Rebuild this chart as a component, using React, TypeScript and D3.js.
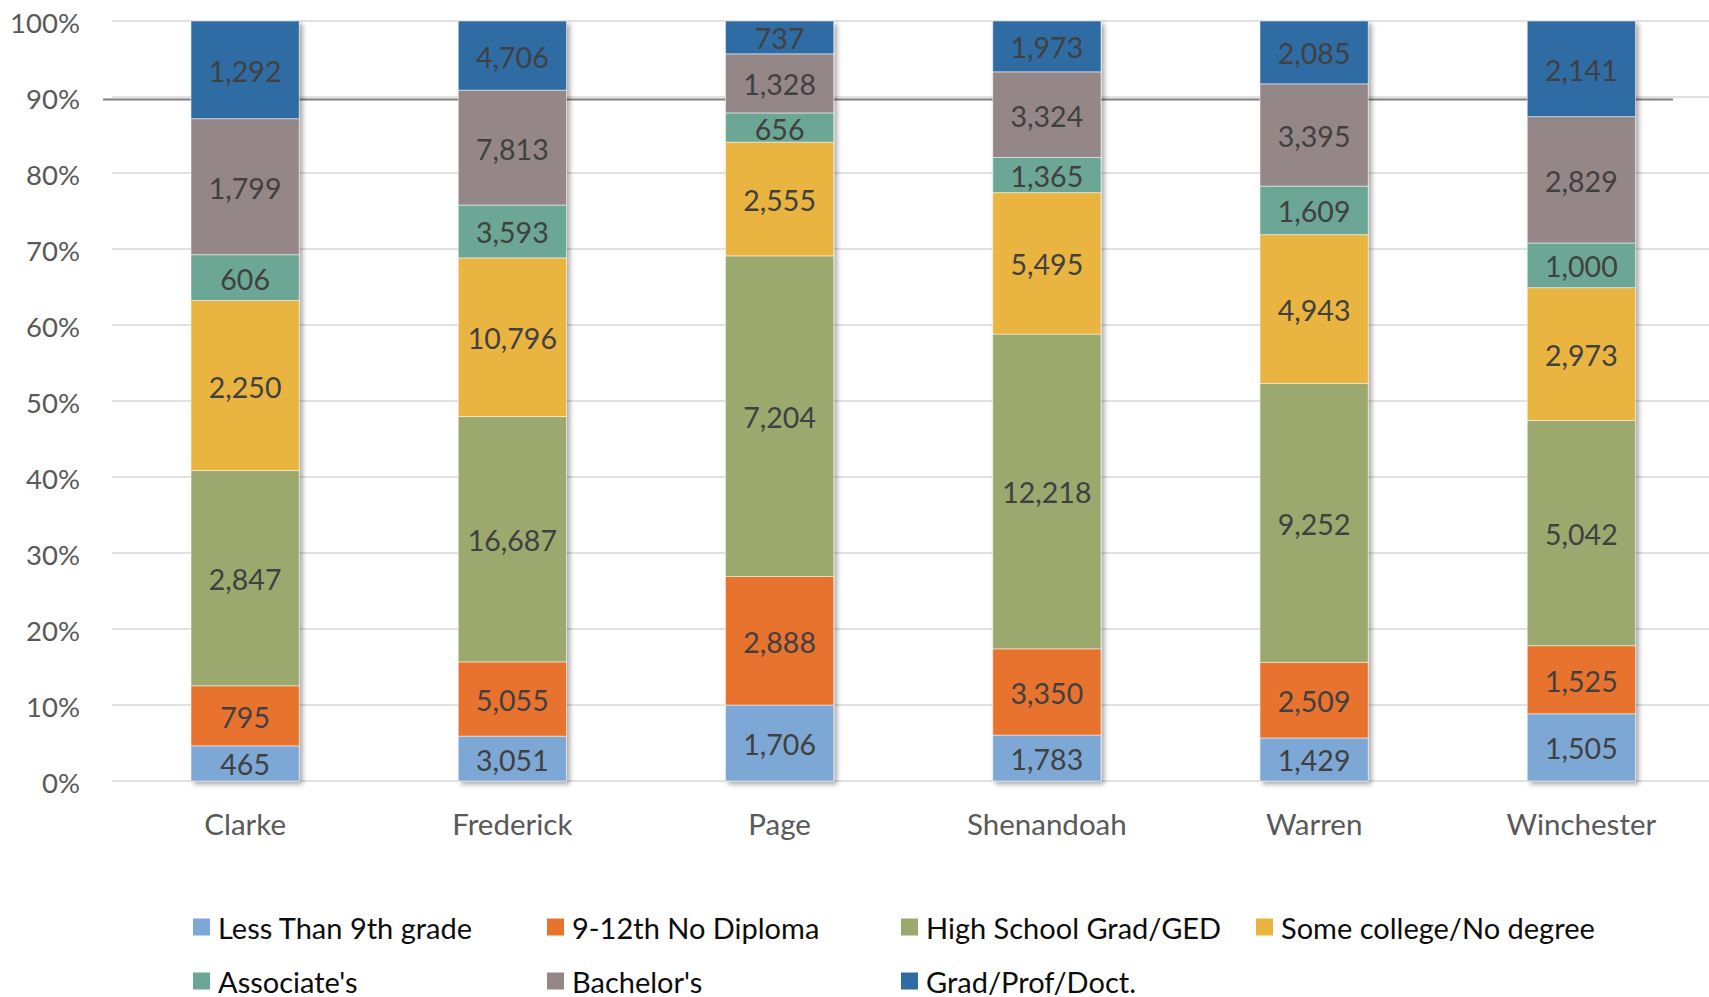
import React from "react";
import * as d3 from "d3";

const counties = ["Clarke", "Frederick", "Page", "Shenandoah", "Warren", "Winchester"];
const seriesNames = [
  "Less Than 9th grade",
  "9-12th No Diploma",
  "High School Grad/GED",
  "Some college/No degree",
  "Associate's",
  "Bachelor's",
  "Grad/Prof/Doct.",
];
const lessThan9th = [465, 3051, 1706, 1783, 1429, 1505];
const noDiploma = [795, 5055, 2888, 3350, 2509, 1525];
const hsGrad = [2847, 16687, 7204, 12218, 9252, 5042];
const someCollege = [2250, 10796, 2555, 5495, 4943, 2973];
const associates = [606, 3593, 656, 1365, 1609, 1000];
const bachelors = [1799, 7813, 1328, 3324, 3395, 2829];
const gradProf = [1292, 4706, 737, 1973, 2085, 2141];
const seriesValues = [lessThan9th, noDiploma, hsGrad, someCollege, associates, bachelors, gradProf];
const colors = ["#7DA7D5", "#E8732D", "#9BA86E", "#E9B43F", "#6CA694", "#958787", "#2F6CA3"];
const yTicks = [0, 0.1, 0.2, 0.3, 0.4, 0.5, 0.6, 0.7, 0.8, 0.9, 1.0];
const referenceLevel = 0.9;

const W = 1709;
const H = 997;
const FONT = "Lato, 'Open Sans', sans-serif";

export default function App() {
  const x = d3
    .scaleBand<string>()
    .domain(counties)
    .range([111.5, 1715])
    .paddingInner(0.595)
    .paddingOuter(0.2975);
  const y = d3.scaleLinear().domain([0, 1]).range([781, 21]);
  const fmt = d3.format(",");

  const rows = counties.map((c, i) => {
    const obj: any = { county: c };
    const total = d3.sum(seriesValues, (s) => s[i]);
    seriesNames.forEach((n, k) => (obj[n] = seriesValues[k][i] / total));
    return obj;
  });
  const stacked = d3.stack<any>().keys(seriesNames)(rows);

  const legendCols = [193, 547, 901, 1256];
  const legendRows = [927, 981];

  return (
    <svg width={W} height={H} style={{ position: "absolute", left: 0, top: 0, background: "#fff" }}>
      <defs>
        <filter id="shadow" x="-10%" y="-5%" width="130%" height="115%">
          <feDropShadow dx="3" dy="3" stdDeviation="2.5" floodColor="#000" floodOpacity="0.35" />
        </filter>
      </defs>
      {yTicks.map((t) => (
        <g key={t}>
          <line x1={112} x2={W} y1={y(t)} y2={y(t)} stroke="#d9d9d9" strokeWidth={1.5} />
          <text
            x={80}
            y={y(t) + 1}
            textAnchor="end"
            dominantBaseline="central"
            fontFamily={FONT}
            fontSize={27.5}
            fill="#595959"
          >
            {Math.round(t * 100) + "%"}
          </text>
        </g>
      ))}
      <line
        x1={103}
        x2={1673}
        y1={y(referenceLevel) + 2.5}
        y2={y(referenceLevel) + 2.5}
        stroke="#7f7f7f"
        strokeWidth={2}
      />
      {counties.map((c, i) => (
        <g key={c} filter="url(#shadow)">
          {stacked.map((layer, k) => {
            const d = layer[i];
            return (
              <rect
                key={k}
                x={x(c)!}
                y={y(d[1])}
                width={x.bandwidth()}
                height={y(d[0]) - y(d[1])}
                fill={colors[k]}
                stroke="#ffffff"
                strokeOpacity={0.5}
                strokeWidth={1}
              />
            );
          })}
        </g>
      ))}
      {counties.map((c, i) =>
        stacked.map((layer, k) => {
          const d = layer[i];
          return (
            <text
              key={c + k}
              x={x(c)! + x.bandwidth() / 2}
              y={(y(d[0]) + y(d[1])) / 2 + 1}
              textAnchor="middle"
              dominantBaseline="central"
              fontFamily={FONT}
              fontSize={28.5}
              fill="#404040"
            >
              {fmt(seriesValues[k][i])}
            </text>
          );
        })
      )}
      {counties.map((c) => (
        <text
          key={c}
          x={x(c)! + x.bandwidth() / 2}
          y={823}
          textAnchor="middle"
          dominantBaseline="central"
          fontFamily={FONT}
          fontSize={29.5}
          fill="#595959"
        >
          {c}
        </text>
      ))}
      {seriesNames.map((n, k) => {
        const cx = legendCols[k % 4];
        const cy = legendRows[Math.floor(k / 4)];
        return (
          <g key={n}>
            <rect x={cx} y={cy - 8.5} width={17} height={17} fill={colors[k]} />
            <text
              x={cx + 25}
              y={cy}
              dominantBaseline="central"
              fontFamily={FONT}
              fontSize={29}
              fill="#0d0d0d"
            >
              {n}
            </text>
          </g>
        );
      })}
    </svg>
  );
}
